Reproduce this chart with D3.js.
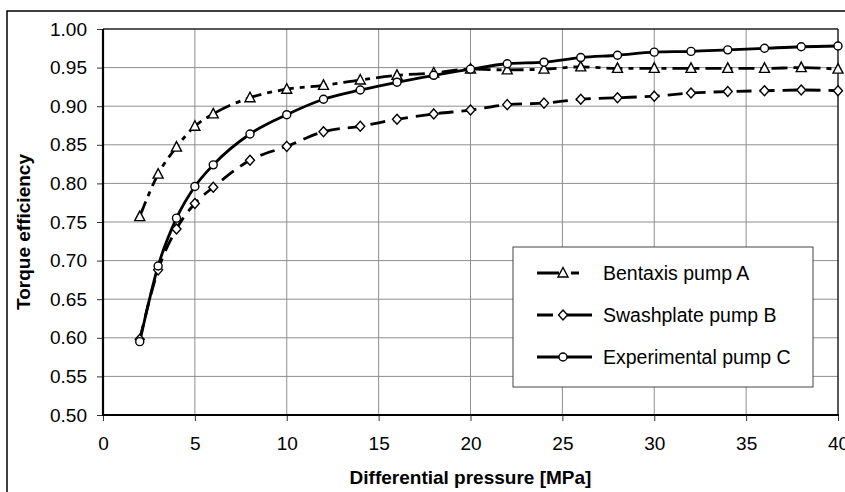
<!DOCTYPE html>
<html><head><meta charset="utf-8">
<script src="https://cdn.jsdelivr.net/npm/d3@7/dist/d3.min.js"></script>
<style>
html,body{margin:0;padding:0;background:#fff;}
svg{display:block;font-family:"Liberation Sans",Arial,sans-serif;}
</style></head>
<body><svg id="c" width="845" height="492"></svg>
<script>
const pressure = [2,3,4,5,6,8,10,12,14,16,18,20,22,24,26,28,30,32,34,36,38,40];
const pumpA = [0.757,0.812,0.847,0.874,0.890,0.911,0.922,0.927,0.934,0.940,0.943,0.948,0.947,0.948,0.951,0.949,0.949,0.949,0.949,0.949,0.950,0.948];
const pumpB = [0.598,0.688,0.741,0.774,0.795,0.830,0.848,0.867,0.874,0.883,0.890,0.895,0.902,0.904,0.909,0.911,0.913,0.917,0.919,0.920,0.921,0.920];
const pumpC = [0.595,0.693,0.755,0.796,0.824,0.864,0.889,0.909,0.921,0.931,0.940,0.948,0.955,0.957,0.963,0.966,0.970,0.971,0.973,0.975,0.977,0.978];
const seriesNames = ["Bentaxis pump A","Swashplate pump B","Experimental pump C"];
const xTicks = [0,5,10,15,20,25,30,35,40];
const yTicks = [0.50,0.55,0.60,0.65,0.70,0.75,0.80,0.85,0.90,0.95,1.00];

const svg = d3.select("#c");
const L=103, R=838, T=29, B=415;
const x = d3.scaleLinear().domain([0,40]).range([L,R]);
const y = d3.scaleLinear().domain([0.5,1.0]).range([B,T]);

// outer frame
svg.append("rect").attr("x",7).attr("y",11).attr("width",900).attr("height",600)
  .attr("fill","none").attr("stroke","#000").attr("stroke-width",1.5);

// grid
const g = svg.append("g");
g.selectAll("line.gx").data(xTicks.filter(d=>d>0&&d<40)).join("line")
  .attr("x1",d=>x(d)).attr("x2",d=>x(d)).attr("y1",T).attr("y2",B)
  .attr("stroke","#8f8f8f").attr("stroke-width",1);
g.selectAll("line.gy").data(yTicks.filter(d=>d>0.5&&d<1.0)).join("line")
  .attr("x1",L).attr("x2",R).attr("y1",d=>y(d)).attr("y2",d=>y(d))
  .attr("stroke","#8f8f8f").attr("stroke-width",1);

// axes
const ax = svg.append("g").attr("transform",`translate(0,${B})`)
  .call(d3.axisBottom(x).tickValues(xTicks).tickFormat(d3.format("d")).tickSize(6).tickPadding(16));
const ay = svg.append("g").attr("transform",`translate(${L},0)`)
  .call(d3.axisLeft(y).tickValues(yTicks).tickFormat(d3.format(".2f")).tickSize(6).tickPadding(10));
[ax,ay].forEach(a=>{
  a.select(".domain").remove();
  a.selectAll(".tick line").attr("stroke","#333").attr("stroke-width",1);
  a.selectAll("text").attr("font-size","19px").attr("fill","#000")
   .attr("font-family","'Liberation Sans',Arial,sans-serif");
});

// plot frame
svg.append("line").attr("x1",L).attr("x2",R).attr("y1",T).attr("y2",T).attr("stroke","#222").attr("stroke-width",1.5);
svg.append("line").attr("x1",R).attr("x2",R).attr("y1",T).attr("y2",B).attr("stroke","#222").attr("stroke-width",1.5);
svg.append("line").attr("x1",L).attr("x2",L).attr("y1",T).attr("y2",B+1).attr("stroke","#000").attr("stroke-width",2.2);
svg.append("line").attr("x1",L-1).attr("x2",R+1).attr("y1",B).attr("y2",B).attr("stroke","#000").attr("stroke-width",2.2);

// series
const dashes = ["16,6,5,6","15,8",null];
const data = [pumpA,pumpB,pumpC];
const markers = ["tri","dia","circ"];
const line = d3.line().x(d=>x(d[0])).y(d=>y(d[1])).curve(d3.curveMonotoneX);
function drawMarker(sel,type){
  if(type==="circ") return sel.append("circle").attr("r",4);
  if(type==="tri") return sel.append("path").attr("d","M0,-5.5L5,4L-5,4Z");
  return sel.append("path").attr("d","M0,-5L4.5,0L0,5L-4.5,0Z");
}
data.forEach((vals,i)=>{
  const pts = pressure.map((p,j)=>[p,vals[j]]);
  svg.append("path").datum(pts).attr("d",line).attr("fill","none")
    .attr("stroke","#000").attr("stroke-width",2.8)
    .attr("stroke-dasharray",dashes[i]);
});
data.forEach((vals,i)=>{
  const pts = pressure.map((p,j)=>[p,vals[j]]);
  pts.forEach(p=>{
    const m = svg.append("g").attr("transform",`translate(${x(p[0])},${y(p[1])})`);
    drawMarker(m,markers[i]).attr("fill","#fff").attr("stroke","#000").attr("stroke-width",1.4);
  });
});

// legend
const lg = svg.append("g");
lg.append("rect").attr("x",513).attr("y",247).attr("width",300).attr("height",140)
  .attr("fill","#fff").attr("stroke","#444").attr("stroke-width",1);
seriesNames.forEach((n,i)=>{
  const yy = 273 + i*42;
  lg.append("line").attr("x1",537).attr("x2",592).attr("y1",yy).attr("y2",yy)
    .attr("stroke","#000").attr("stroke-width",2.8)
    .attr("stroke-dasharray", i===0?"22,12,8,20":(i===1?"16,10,30":null));
  const m = lg.append("g").attr("transform",`translate(563,${yy})`);
  drawMarker(m,markers[i]).attr("fill","#fff").attr("stroke","#000").attr("stroke-width",1.4);
  lg.append("text").attr("x",603).attr("y",yy).attr("dy","0.35em")
    .attr("font-size","19.5px").text(n);
});

// titles
svg.append("text").attr("x",(L+R)/2).attr("y",477).attr("dy","0.35em").attr("text-anchor","middle")
  .attr("font-size","19px").attr("font-weight","bold").text("Differential pressure [MPa]");
svg.append("text").attr("transform",`translate(23,232) rotate(-90)`).attr("dy","0.35em")
  .attr("text-anchor","middle").attr("font-size","19px").attr("font-weight","bold").text("Torque efficiency");
</script></body></html>
